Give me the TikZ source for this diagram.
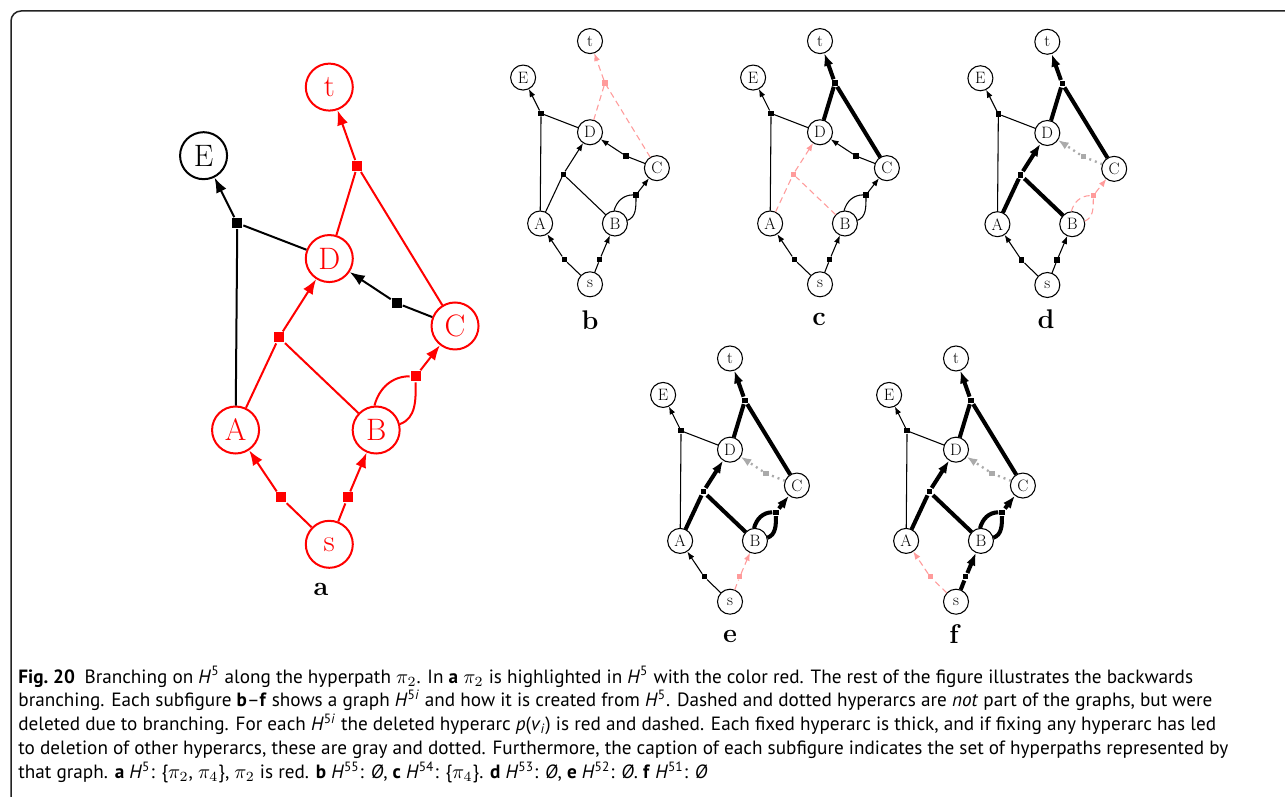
\documentclass[tikz,border=0pt]{standalone}
\usepackage{fontspec}
\setsansfont{PT Sans}
\usetikzlibrary{arrows.meta}

\definecolor{cpath}{RGB}{255,0,0}
\definecolor{cdrop}{RGB}{255,155,155}
\definecolor{cgone}{RGB}{170,170,170}
\definecolor{cframe}{RGB}{35,35,35}

% scale of the graph being drawn (1 = big one)
\newcommand\gs{1}
\newcommand\Hsup[1]{\textit{H}\textsuperscript{#1}}

\tikzset{
  vtx/.style={circle,draw,line width=1pt*\gs,minimum size=23.5pt,inner sep=0pt,
    font=\fontsize{15.5}{18}\selectfont},
  hub/.style={rectangle,minimum size=5pt,inner sep=0pt,fill},
  % looks of a hyperarc
  plain/.style={black,line width=1pt*\gs,>={Latex[length=7.5pt,width=5.6pt,scale=\gs]}},
  onpath/.style={plain,cpath},
  fixed/.style={black,line width=3.8pt*\gs,>={Latex[length=12pt,width=9pt,scale=\gs]}},
  dropped/.style={plain,cdrop,dash pattern=on 3pt off 2pt},
  gone/.style={cgone,line width=2.2pt*\gs,dash pattern=on 1pt off 2pt,
    >={Latex[length=10pt,width=7.5pt,scale=\gs]}},
  % the seven hyperarcs, plain unless the scope says otherwise
  sa/.style=plain, sb/.style=plain, abd/.style=plain, bbc/.style=plain,
  cd/.style=plain, dct/.style=plain, ade/.style=plain,
  nd/.style={},
  sublbl/.style={font=\fontsize{13.5}{16}\selectfont\bfseries},
  capt/.style={font=\sffamily\fontsize{9.6}{11.9}\selectfont,align=left,inner sep=0pt},
}

% the hypergraph H^5, s at the origin
\newcommand\hgraph{%
  \node[vtx,nd] (s) at (0,0) {s};
  \node[vtx,nd] (A) at (-0.82,1) {A};
  \node[vtx,nd] (B) at (0.41,1) {B};
  \node[vtx,nd] (C) at (1.1,1.91) {C};
  \node[vtx,nd] (D) at (0,2.5) {D};
  \node[vtx] (E) at (-1.1,3.4) {E};
  \node[vtx,nd] (t) at (0,4) {t};
  % squares
  \node[hub,sa] (hsa) at (-0.425,0.41) {};
  \node[hub,sb] (hsb) at (0.161,0.41) {};
  \node[hub,abd] (habd) at (-0.44,1.81) {};
  \node[hub,bbc] (hbbc) at (0.756,1.47) {};
  \node[hub,cd] (hcd) at (0.59,2.11) {};
  \node[hub,dct] (hdct) at (0.245,3.31) {};
  \node[hub,ade] (hade) at (-0.805,2.81) {};
  % tails and heads
  \draw[sa] (s) -- (hsa);
  \draw[sa,->] (hsa) -- (A);
  \draw[sb] (s) -- (hsb);
  \draw[sb,->] (hsb) -- (B);
  \draw[abd] (A) -- (habd);
  \draw[abd] (B) -- (habd);
  \draw[abd,->] (habd) -- (D);
  \draw[bbc] (B.94) to[out=75,in=180] (hbbc);
  \draw[bbc] (B.14) to[out=20,in=-90] (hbbc);
  \draw[bbc,->] (hbbc) -- (C);
  \draw[cd] (C) -- (hcd);
  \draw[cd,->] (hcd) -- (D);
  \draw[dct] (D) -- (hdct);
  \draw[dct] (C) -- (hdct);
  \draw[dct,->] (hdct) -- (t);
  \draw[ade] (A) -- (hade);
  \draw[ade] (D) -- (hade);
  \draw[ade,->] (hade) -- (E);
}

\begin{document}
\begin{tikzpicture}[x=0.5pt,y=-0.5pt]
\useasboundingbox (0,0) rectangle (1285,797);
\fill[white] (0,0) rectangle (1285,797);
\draw[cframe,line width=0.75pt,rounded corners=5pt] (11,11) rectangle (1320,830);

% ---- a: pi_2 in red
\renewcommand\gs{1}
\begin{scope}[shift={(329.3,544.3)},x=57.15pt,y=57.15pt,scale=\gs,transform shape,
  nd/.style={cpath},sa/.style=onpath,sb/.style=onpath,abd/.style=onpath,
  bbc/.style=onpath,dct/.style=onpath]
  \hgraph
\end{scope}
\node[sublbl] (la) at (321,589) {a};

% ---- b to f: branching
\renewcommand\gs{0.532}
\begin{scope}[shift={(590,284.3)},x=57.15pt,y=57.15pt,scale=\gs,transform shape,
  dct/.style=dropped]
  \hgraph
\end{scope}
\node[sublbl] (lb) at (590,320) {b};

\begin{scope}[shift={(820,284.3)},x=57.15pt,y=57.15pt,scale=\gs,transform shape,
  dct/.style=fixed,abd/.style=dropped]
  \hgraph
\end{scope}
\node[sublbl] (lc) at (819,319) {c};

\begin{scope}[shift={(1047.3,285)},x=57.15pt,y=57.15pt,scale=\gs,transform shape,
  dct/.style=fixed,abd/.style=fixed,bbc/.style=dropped,cd/.style=gone]
  \hgraph
\end{scope}
\node[sublbl] (ld) at (1046,319) {d};

\begin{scope}[shift={(730,601.7)},x=57.15pt,y=57.15pt,scale=\gs,transform shape,
  dct/.style=fixed,abd/.style=fixed,bbc/.style=fixed,sb/.style=dropped,cd/.style=gone]
  \hgraph
\end{scope}
\node[sublbl] (le) at (730,636) {e};

\begin{scope}[shift={(956,601.7)},x=57.15pt,y=57.15pt,scale=\gs,transform shape,
  dct/.style=fixed,abd/.style=fixed,bbc/.style=fixed,sb/.style=fixed,
  sa/.style=dropped,cd/.style=gone]
  \hgraph
\end{scope}
\node[sublbl] (lf) at (954,634) {f};

% ---- caption
\node[capt,anchor=north west] (cap) at (18,666) {%
\textbf{Fig.~20}\enspace Branching on \Hsup{5} along the hyperpath $\pi_2$. In \textbf{a} $\pi_2$ is highlighted in \Hsup{5} with the color red. The rest of the figure illustrates the backwards\\
branching. Each subfigure \textbf{b}--\textbf{f} shows a graph \Hsup{5\textit{i}} and how it is created from \Hsup{5}. Dashed and dotted hyperarcs are \textit{not} part of the graphs, but were\\
deleted due to branching. For each \Hsup{5\textit{i}} the deleted hyperarc \textit{p}(\textit{v}\textsubscript{\textit{i}}) is red and dashed. Each fixed hyperarc is thick, and if fixing any hyperarc has led\\
to deletion of other hyperarcs, these are gray and dotted. Furthermore, the caption of each subfigure indicates the set of hyperpaths represented by\\
that graph. \textbf{a} \Hsup{5}: \{$\pi_2$, $\pi_4$\}, $\pi_2$ is red. \textbf{b} \Hsup{55}: {\itshape Ø}, \textbf{c} \Hsup{54}: \{$\pi_4$\}. \textbf{d} \Hsup{53}: {\itshape Ø}, \textbf{e} \Hsup{52}: {\itshape Ø}. \textbf{f} \Hsup{51}: {\itshape Ø}};
\end{tikzpicture}
\end{document}
